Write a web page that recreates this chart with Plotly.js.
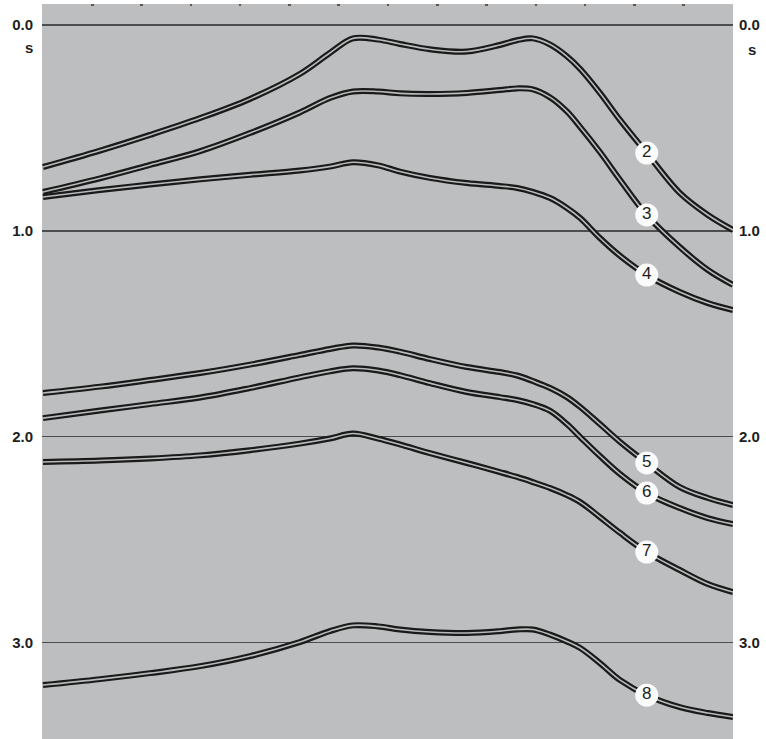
<!DOCTYPE html>
<html>
<head>
<meta charset="utf-8">
<script src="https://cdn.plot.ly/plotly-3.0.1.min.js"></script>
<style>
  html, body { margin: 0; padding: 0; background: #ffffff; }
  #chart { width: 766px; height: 739px; }
</style>
</head>
<body>
<div id="chart"></div>
<script>
// Shot-point / trace position (horizontal axis, arbitrary units)
const xPos = [0, 1.16, 2.17, 3.19, 4.20, 5.21, 5.82, 6.29, 6.80, 7.24, 7.85, 8.60, 9.27, 9.62, 9.94, 10.29, 10.63, 10.90, 11.30, 11.71, 12.25, 12.92, 13.49, 14.0];

// Two-way travel time (s) of each picked horizon
const horizon2 = [0.690, 0.610, 0.534, 0.452, 0.359, 0.238, 0.136, 0.065, 0.071, 0.092, 0.118, 0.129, 0.097, 0.074, 0.065, 0.095, 0.152, 0.214, 0.330, 0.462, 0.622, 0.816, 0.923, 0.996];
const horizon3 = [0.811, 0.745, 0.680, 0.613, 0.525, 0.425, 0.355, 0.323, 0.323, 0.332, 0.335, 0.330, 0.316, 0.308, 0.313, 0.352, 0.420, 0.496, 0.617, 0.753, 0.923, 1.079, 1.190, 1.263];
const horizon4 = [0.836, 0.802, 0.775, 0.750, 0.728, 0.707, 0.688, 0.667, 0.682, 0.712, 0.743, 0.768, 0.782, 0.792, 0.811, 0.841, 0.889, 0.938, 1.035, 1.122, 1.215, 1.297, 1.351, 1.385];
const horizon5 = [1.788, 1.757, 1.725, 1.691, 1.650, 1.603, 1.574, 1.557, 1.567, 1.587, 1.623, 1.662, 1.686, 1.703, 1.730, 1.764, 1.808, 1.856, 1.939, 2.026, 2.128, 2.245, 2.298, 2.332];
const horizon6 = [1.910, 1.873, 1.842, 1.810, 1.764, 1.712, 1.683, 1.668, 1.679, 1.701, 1.740, 1.783, 1.808, 1.822, 1.842, 1.875, 1.939, 2.002, 2.094, 2.182, 2.274, 2.347, 2.396, 2.425];
const horizon7 = [2.123, 2.116, 2.106, 2.091, 2.066, 2.034, 2.009, 1.985, 2.010, 2.038, 2.080, 2.128, 2.172, 2.196, 2.221, 2.250, 2.284, 2.318, 2.391, 2.468, 2.561, 2.648, 2.716, 2.755];
const horizon8 = [3.207, 3.178, 3.149, 3.115, 3.066, 2.998, 2.945, 2.917, 2.922, 2.937, 2.949, 2.954, 2.945, 2.937, 2.937, 2.962, 2.995, 3.027, 3.100, 3.183, 3.256, 3.314, 3.343, 3.362];

const horizonNames = ['2', '3', '4', '5', '6', '7', '8'];
const labelX = 12.25;               // where the circled numbers sit along the horizons

// Time axis ticks
const timeTicks = [0, 1, 2, 3];
const timeTickText = ['0.0', '1.0', '2.0', '3.0'];
const timeUnit = 's';
// Trace marks along the top edge
const topTicks = [0, 1, 2, 3, 4, 5, 6, 7, 8, 9, 10, 11, 12, 13];

const horizons = [horizon2, horizon3, horizon4, horizon5, horizon6, horizon7, horizon8];

const DARK = '#1a1a1a';
const GAP = '#b8b9ba';
const traces = [];
horizons.forEach((h, i) => {
  traces.push({
    x: xPos, y: h, type: 'scatter', mode: 'lines', hoverinfo: 'skip', showlegend: false,
    line: { color: DARK, width: 6, shape: 'spline', smoothing: 1.0 }
  });
  traces.push({
    x: xPos, y: h, type: 'scatter', mode: 'lines', hoverinfo: 'skip', showlegend: false,
    line: { color: GAP, width: 1.6, shape: 'spline', smoothing: 1.0 }
  });
});

// circled labels on the horizons
const labelIdx = xPos.indexOf(labelX);
traces.push({
  x: horizons.map(() => labelX),
  y: horizons.map(h => h[labelIdx]),
  text: horizonNames,
  type: 'scatter', mode: 'markers+text', hoverinfo: 'skip', showlegend: false,
  marker: { size: 23, color: '#fbfbfb', line: { width: 0 } },
  textposition: 'middle center',
  textfont: { family: 'Liberation Sans, Arial, sans-serif', size: 17, color: '#1e1e1e' }
});

// invisible trace to activate right-hand time axis
traces.push({ x: [0], y: [0], yaxis: 'y2', mode: 'markers', marker: { opacity: 0 }, hoverinfo: 'skip', showlegend: false });

const yRange = [3.469, -0.102];
const tickFont = { family: 'Liberation Sans, Arial, sans-serif', size: 15, color: '#1e1e1e', weight: 'bold' };

const layout = {
  width: 766, height: 739,
  margin: { l: 42, r: 33, t: 4, b: 0, pad: 0 },
  paper_bgcolor: '#ffffff',
  plot_bgcolor: '#bdbebf',
  showlegend: false,
  xaxis: {
    range: [-0.02, 14.0], side: 'top', showgrid: false, zeroline: false, showline: false,
    tickmode: 'array', tickvals: topTicks, ticks: 'inside', ticklen: 2, tickwidth: 2.5, tickcolor: '#5a5a5a',
    showticklabels: false, fixedrange: true
  },
  yaxis: {
    range: yRange, showgrid: true, gridcolor: '#4d4d4d', gridwidth: 1.5, zeroline: false, showline: false,
    tickmode: 'array', tickvals: timeTicks, ticktext: timeTickText,
    ticks: 'outside', ticklen: 5, tickcolor: 'rgba(0,0,0,0)', tickfont: tickFont, fixedrange: true
  },
  yaxis2: {
    range: yRange, overlaying: 'y', side: 'right', showgrid: false, zeroline: false, showline: false,
    tickmode: 'array', tickvals: timeTicks, ticktext: timeTickText,
    ticks: 'outside', ticklen: 2, tickcolor: 'rgba(0,0,0,0)', tickfont: tickFont, fixedrange: true
  },
  annotations: [
    { xref: 'paper', yref: 'y', x: 0, y: timeTicks[0], xanchor: 'center', yanchor: 'middle',
      xshift: -13, yshift: -23, text: timeUnit, showarrow: false, font: tickFont },
    { xref: 'paper', yref: 'y', x: 1, y: timeTicks[0], xanchor: 'center', yanchor: 'middle',
      xshift: 19, yshift: -25, text: timeUnit, showarrow: false, font: tickFont }
  ]
};

Plotly.newPlot('chart', traces, layout, { staticPlot: true, displayModeBar: false });
</script>
</body>
</html>
